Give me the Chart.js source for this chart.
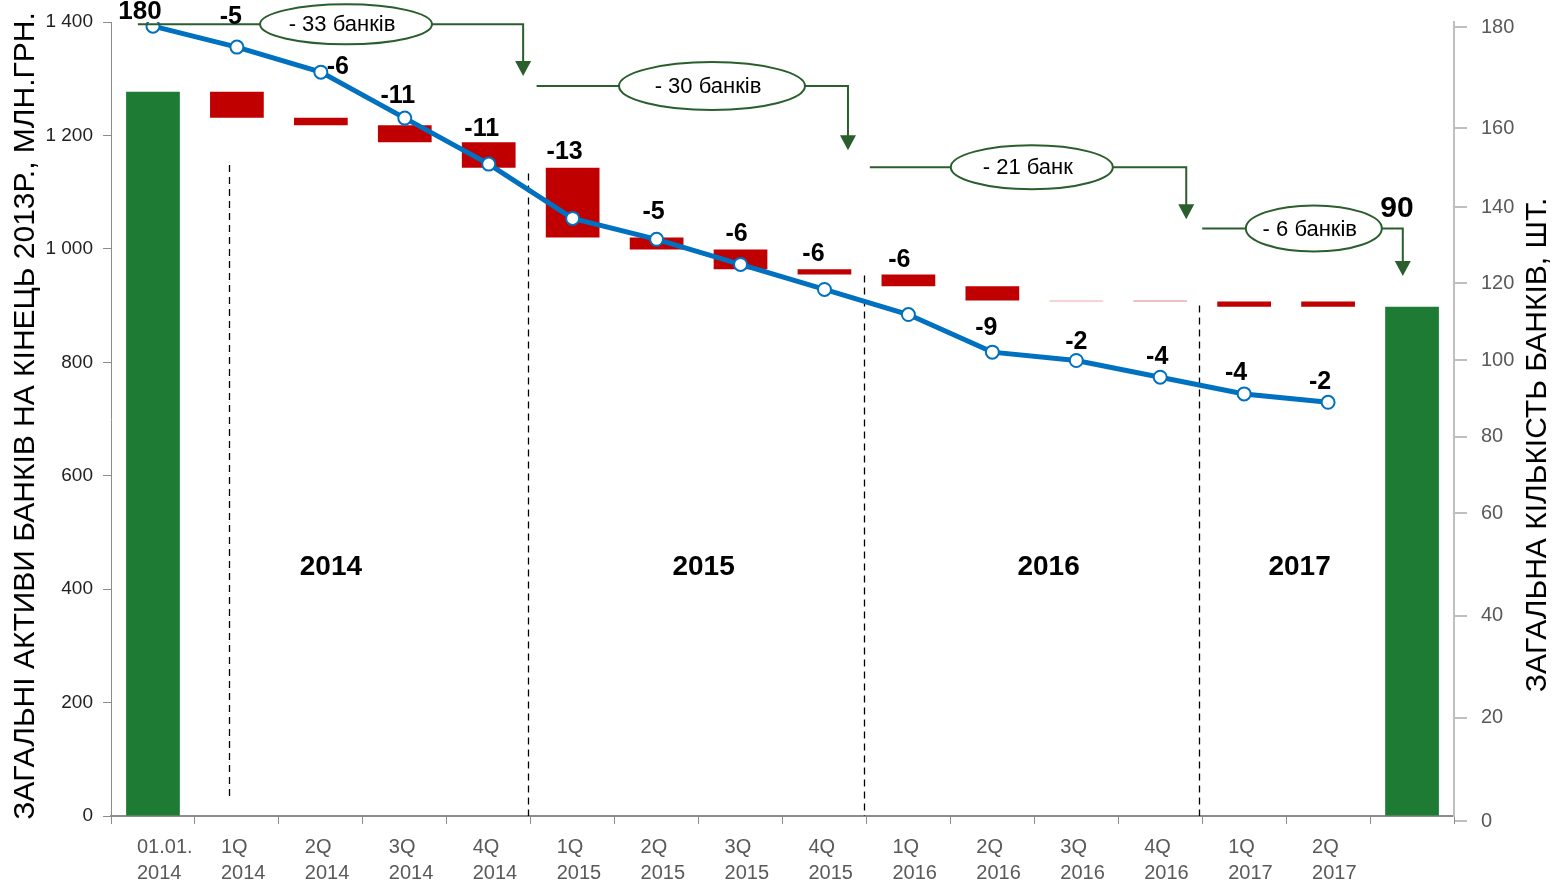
<!DOCTYPE html>
<html>
<head>
<meta charset="utf-8">
<script src="https://cdn.jsdelivr.net/npm/chart.js@4.4.1/dist/chart.umd.min.js"></script>
<style>
  html, body { margin: 0; padding: 0; background: #fff; }
</style>
</head>
<body>
<canvas id="chart" width="1554" height="884"></canvas>
<script>
// categories (the last one is the closing bar, no label)
const periods = ['01.01. 2014', '1Q 2014', '2Q 2014', '3Q 2014', '4Q 2014',
    '1Q 2015', '2Q 2015', '3Q 2015', '4Q 2015',
    '1Q 2016', '2Q 2016', '3Q 2016', '4Q 2016',
    '1Q 2017', '2Q 2017', ''];

// total assets, mln UAH (2013 prices): floating bar bounds
const assetLow = [0, 1231, 1218, 1188, 1143, 1020, 999, 964, 955, 934, 909, 907, 907, 898, 898, 0];
const assetHigh = [1277, 1277, 1231, 1218, 1188, 1143, 1020, 999, 964, 955, 934, 909, 909, 907, 907, 898];

// number of banks at period end
const banks = [180, 175, 169, 158, 147, 134, 129, 123, 117, 111, 102, 100, 96, 92, 90, null];

const yearLabels = ['2014', '2015', '2016', '2017'];
const calloutTexts = ['- 33 банків', '- 30 банків', '- 21 банк', '- 6 банків'];

// right axis as drawn in the source: labels and where they sit on the banks scale
const bankTickLabels = ['0', '20', '40', '60', '80', '100', '120', '140', '160', '180'];
const bankTickAt = [-10.2, 14.5, 38.9, 63.4, 81.8, 100, 118.5, 136.7, 155.6, 179.8];

const FONT = "'Liberation Sans', Arial, sans-serif";
Chart.defaults.font.family = FONT;

const GREEN = '#1E7B34';
const RED = '#C00000';

function barColor(i) {
    if (i === 0 || i === periods.length - 1) return GREEN;
    if (i === 11) return '#F0A8A8';
    if (i === 12) return '#E08585';
    return RED;
}

// change labels: first/last show totals, the rest the quarterly change
const lastBanks = banks[periods.length - 2];
const changeLabels = periods.map((_, i) => {
    if (i === 0) return String(banks[0]);
    if (i === periods.length - 1) return String(lastBanks);
    return String(banks[i] - banks[i - 1]);
});

const overlay = {
    id: 'overlay',
    beforeDatasetsDraw(chart) {
        const { ctx, scales: { x, y } } = chart;
        ctx.save();
        // dashed year separators [category position, top value, bottom value]
        ctx.strokeStyle = '#000';
        ctx.lineWidth = 1.3;
        ctx.setLineDash([7, 5]);
        [[0.9, 1148, 32], [4.47, 1133, 0], [8.47, 953, 0], [12.46, 900, 0]].forEach(([i, t, b]) => {
            const px = Math.round(x.getPixelForValue(i)) + 0.5;
            ctx.beginPath();
            ctx.moveTo(px, y.getPixelForValue(t));
            ctx.lineTo(px, y.getPixelForValue(b));
            ctx.stroke();
        });
        ctx.setLineDash([]);

        // year captions
        ctx.fillStyle = '#000';
        ctx.font = 'bold 28px ' + FONT;
        ctx.textAlign = 'center';
        ctx.textBaseline = 'middle';
        [2.12, 6.56, 10.67, 13.66].forEach((i, k) => {
            ctx.fillText(yearLabels[k], x.getPixelForValue(i), y.getPixelForValue(438));
        });
        ctx.restore();
    },
    afterDatasetsDraw(chart) {
        const { ctx, scales: { x, y } } = chart;
        const lineMeta = chart.getDatasetMeta(0);
        const barMeta = chart.getDatasetMeta(1);
        ctx.save();

        // callouts
        const callouts = [
            { from: -0.18, mid: 2.30, rx: 86, ry: 20, to: 4.41, at: 1396, tip: 1305 },
            { from: 4.57, mid: 6.66, rx: 93, ry: 24, to: 8.28, at: 1287, tip: 1174 },
            { from: 8.54, mid: 10.47, rx: 81, ry: 22, to: 12.31, at: 1144, tip: 1052 },
            { from: 12.50, mid: 13.83, rx: 68, ry: 23, to: 14.89, at: 1036, tip: 952 }
        ];
        const dark = '#2A5E2D';
        callouts.forEach((c, k) => {
            const yy = y.getPixelForValue(c.at);
            const x0 = x.getPixelForValue(c.from);
            const xm = x.getPixelForValue(c.mid);
            const x1 = x.getPixelForValue(c.to);
            const tip = y.getPixelForValue(c.tip);
            ctx.strokeStyle = dark;
            ctx.fillStyle = dark;
            ctx.lineWidth = 2;
            ctx.beginPath();
            ctx.moveTo(x0, yy);
            ctx.lineTo(xm - c.rx, yy);
            ctx.moveTo(xm + c.rx, yy);
            ctx.lineTo(x1, yy);
            ctx.lineTo(x1, tip - 14);
            ctx.stroke();
            ctx.beginPath();
            ctx.moveTo(x1 - 8, tip - 15);
            ctx.lineTo(x1 + 8, tip - 15);
            ctx.lineTo(x1, tip);
            ctx.closePath();
            ctx.fill();
            ctx.beginPath();
            ctx.ellipse(xm, yy, c.rx, c.ry, 0, 0, Math.PI * 2);
            ctx.fillStyle = '#fff';
            ctx.fill();
            ctx.stroke();
            ctx.fillStyle = '#000';
            ctx.font = '22px ' + FONT;
            ctx.textAlign = 'center';
            ctx.textBaseline = 'middle';
            ctx.fillText(calloutTexts[k], xm - 4, yy + 1);
        });

        // bank change labels: anchor (point / bar top), dx, dy
        const place = [
            ['pt', -13, -15], ['pt', -6, -31], ['pt', 17, -6], ['pt', -7, -23],
            ['bar', -7, -14], ['bar', -8, -17], ['bar', -3, -26], ['bar', -4, -16],
            ['bar', -11, -16], ['bar', -9, -15], ['pt', -6, -25], ['pt', 0, -19],
            ['pt', -3, -21], ['pt', -8, -22], ['pt', -8, -21], ['bar', -15, -99]
        ];
        ctx.fillStyle = '#000';
        ctx.textAlign = 'center';
        ctx.textBaseline = 'middle';
        changeLabels.forEach((txt, i) => {
            const [anchor, dx, dy] = place[i];
            const cx = x.getPixelForValue(i);
            const ay = anchor === 'pt' ? lineMeta.data[i].y : barMeta.data[i].y;
            let size = 25;
            if (i === 0) size = 26;
            if (i === periods.length - 1) size = 30;
            ctx.font = 'bold ' + size + 'px ' + FONT;
            ctx.fillText(txt, cx + dx, ay + dy + 1);
        });

        // axis titles
        ctx.font = '30px ' + FONT;
        ctx.fillStyle = '#000';
        ctx.save();
        ctx.translate(26, 416);
        ctx.rotate(-Math.PI / 2);
        ctx.fillText('ЗАГАЛЬНІ АКТИВИ БАНКІВ НА КІНЕЦЬ 2013Р., МЛН.ГРН.', 0, 0);
        ctx.restore();
        ctx.save();
        ctx.translate(1538, 445);
        ctx.rotate(-Math.PI / 2);
        ctx.fillText('ЗАГАЛЬНА КІЛЬКІСТЬ БАНКІВ, ШТ.', 0, 0);
        ctx.restore();

        ctx.restore();
    }
};

// keep the vertical axes from pushing the plot area down
function noOverhang(s) {
    s.paddingTop = 0;
    s.paddingBottom = 0;
}

new Chart(document.getElementById('chart'), {
    type: 'bar',
    data: {
        labels: periods.map(p => p.split(' ')),
        datasets: [
            {
                type: 'line',
                label: 'Кількість банків',
                data: banks,
                yAxisID: 'yB',
                order: 0,
                borderColor: '#0070C0',
                borderWidth: 5,
                pointRadius: 6.5,
                pointBackgroundColor: '#ffffff',
                pointBorderColor: '#0070C0',
                pointBorderWidth: 2,
                tension: 0
            },
            {
                type: 'bar',
                label: 'Активи',
                data: periods.map((_, i) => [assetLow[i], assetHigh[i]]),
                yAxisID: 'y',
                order: 1,
                backgroundColor: periods.map((_, i) => barColor(i)),
                barPercentage: 0.64,
                categoryPercentage: 1
            }
        ]
    },
    options: {
        responsive: false,
        animation: false,
        layout: { padding: { top: 22, left: 0, right: 0, bottom: 0 } },
        plugins: {
            legend: { display: false },
            tooltip: { enabled: false }
        },
        scales: {
            x: {
                offset: true,
                grid: { drawOnChartArea: false, tickLength: 8, color: '#8C8C8C', offset: true },
                border: { color: '#8C8C8C', width: 2 },
                ticks: {
                    color: '#595959',
                    font: { size: 20, lineHeight: 1.3 },
                    padding: 10,
                    align: 'start',
                    labelOffset: -16,
                    maxRotation: 0,
                    autoSkip: false
                },
                afterFit: s => { s.height = 68; }
            },
            y: {
                position: 'left',
                min: 0,
                max: 1400,
                ticks: {
                    stepSize: 200,
                    color: '#222',
                    font: { size: 19 },
                    padding: 10,
                    callback: v => String(v).replace(/\B(?=(\d{3})+(?!\d))/g, ' ')
                },
                grid: { drawOnChartArea: false, tickLength: 8, color: '#8C8C8C' },
                border: { color: '#8C8C8C' },
                afterFit: s => { s.width = 111; noOverhang(s); }
            },
            yB: {
                position: 'right',
                min: -9,
                max: 181,
                afterBuildTicks: s => { s.ticks = bankTickAt.map(v => ({ value: v })); },
                ticks: {
                    color: '#595959',
                    font: { size: 20 },
                    padding: 14,
                    callback: (v, i) => bankTickLabels[i]
                },
                grid: { drawOnChartArea: false, tickLength: 13, color: '#BFBFBF', lineWidth: 2 },
                border: { color: '#BFBFBF', width: 2 },
                afterFit: s => { s.width = 100; noOverhang(s); }
            }
        }
    },
    plugins: [overlay]
});
</script>
</body>
</html>
